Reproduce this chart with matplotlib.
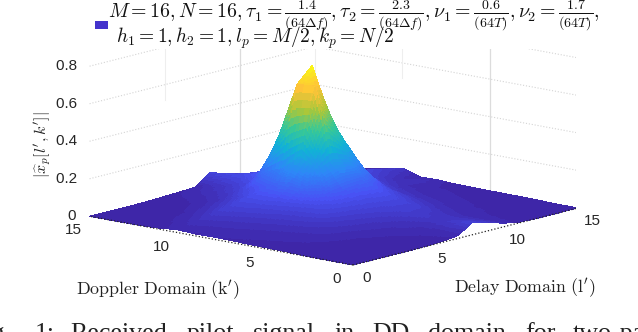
import numpy as np
import matplotlib
matplotlib.use('Agg')
import matplotlib.pyplot as plt
from matplotlib.colors import LinearSegmentedColormap
from matplotlib.patches import Rectangle
from mpl_toolkits.mplot3d import proj3d

# Values: |x_p[l',k']|, rows are k' = 0..15, columns l' = 0..15
delay = np.arange(16)
doppler = np.arange(16)
pilot = np.array([
    [.000, .000, .000, .000, .000, .002, .005, .015, .067, .045, .020, .005, .000, .000, .000, .000],
    [.000, .000, .000, .002, .004, .006, .010, .020, .050, .040, .020, .010, .004, .002, .000, .000],
    [.000, .002, .003, .005, .007, .010, .015, .022, .040, .035, .020, .012, .008, .005, .003, .002],
    [.002, .004, .005, .008, .012, .016, .022, .030, .050, .040, .025, .016, .010, .007, .005, .004],
    [.005, .008, .012, .020, .022, .028, .034, .044, .060, .060, .035, .020, .013, .009, .006, .004],
    [.006, .010, .015, .024, .035, .045, .052, .062, .070, .075, .050, .028, .016, .011, .008, .005],
    [.008, .012, .018, .028, .045, .070, .080, .085, .090, .100, .070, .036, .020, .013, .009, .006],
    [.010, .015, .022, .034, .052, .075, .105, .125, .130, .140, .100, .048, .026, .016, .010, .007],
    [.012, .018, .026, .040, .060, .085, .140, .220, .260, .240, .180, .075, .038, .022, .027, .012],
    [.010, .020, .032, .050, .070, .095, .150, .280, .630, .444, .300, .120, .060, .035, .020, .010],
    [.015, .025, .040, .060, .075, .095, .125, .200, .630, .710, .390, .190, .090, .070, .050, .040],
    [.006, .012, .020, .030, .045, .060, .090, .160, .350, .300, .160, .090, .050, .040, .030, .020],
    [.002, .005, .008, .012, .020, .030, .050, .080, .120, .120, .060, .040, .025, .015, .010, .002],
    [.000, .002, .003, .005, .008, .015, .030, .050, .090, .090, .040, .020, .010, .005, .002, .000],
    [.000, .000, .002, .003, .005, .010, .020, .030, .080, .060, .030, .012, .005, .002, .000, .000],
    [.000, .000, .000, .000, .002, .005, .008, .012, .070, .047, .027, .005, .002, .000, .000, .000],
])

z_ticks = [0, 0.2, 0.4, 0.6, 0.8]
z_labels = ['0', '0.2', '0.4', '0.6', '0.8']
grid_ticks = [0, 5, 10, 15]
legend_line1 = (r'$M=16,N=16,\tau_1=\frac{1.4}{(64\Delta f)},\tau_2=\frac{2.3}{(64\Delta f)},'
                r'\nu_1=\frac{0.6}{(64T)},\nu_2=\frac{1.7}{(64T)},$')
legend_line2 = r'$h_1=1,h_2=1,l_p=M/2,k_p=N/2$'
caption_words = ['Fig.', '1:', 'Received', 'pilot', 'signal', 'in', 'DD', 'domain', 'for', 'two-path']
caption_x = [-30, 35, 70, 187, 253, 335, 372, 428, 525, 573]

parula = LinearSegmentedColormap.from_list('parula', [
    (0.2422, 0.1504, 0.6603), (0.2810, 0.3228, 0.9579), (0.1786, 0.5289, 0.9682),
    (0.0689, 0.6948, 0.8394), (0.2161, 0.7843, 0.5923), (0.6720, 0.7793, 0.2227),
    (0.9970, 0.7659, 0.2199), (0.9769, 0.9839, 0.0805)], N=64)


# smooth shading like MATLAB's "shading interp": split each cell into small flat facets
def shade_mesh(z, n=10):
    u = np.linspace(0, 15, 15 * n + 1)
    i = np.minimum(u.astype(int), 14)
    f = u - i
    fx, fy = np.meshgrid(f, f)
    ix, iy = np.meshgrid(i, i)
    zz = (z[iy, ix] * (1 - fx) * (1 - fy) + z[iy, ix + 1] * fx * (1 - fy)
          + z[iy + 1, ix] * (1 - fx) * fy + z[iy + 1, ix + 1] * fx * fy)
    xx, yy = np.meshgrid(u, u)
    return xx, yy, zz


W, H = 638, 332
fig = plt.figure(figsize=(W / 100, H / 100), dpi=100)
ax = fig.add_axes([0, 0, 1, 1], projection='3d', computed_zorder=False)
ax.set_proj_type('ortho')
ax.view_init(elev=12.5, azim=-139.5)
ax.set_xlim(0, 15, view_margin=0)
ax.set_ylim(0, 15, view_margin=0)
ax.set_zlim(0, 0.8, view_margin=0)
ax.set_box_aspect((347, 347, 154))
ax.set_axis_off()
ax.patch.set_alpha(0)

# place the square 3D axes so that the floor corners land where they are in the picture
P = ax.get_proj()
x0, y0, _ = proj3d.proj_transform(0, 0, 0, P)
x1, y1, _ = proj3d.proj_transform(15, 0, 0, P)
xl = ax.viewLim.intervalx
yl = ax.viewLim.intervaly
S = 225 / (x1 - x0) * (xl[1] - xl[0])
left = 353 - (x0 - xl[0]) / (xl[1] - xl[0]) * S
bottom = (H - 265) - (y0 - yl[0]) / (yl[1] - yl[0]) * S
ax.set_position([left / W, bottom / H, S / W, S / H])

# walls
for z in z_ticks[1:]:
    ax.plot([0, 15], [15, 15], [z, z], ls=':', lw=0.8, color='#d4d4d4', zorder=1)
    ax.plot([15, 15], [15, 0], [z, z], ls=':', lw=0.8, color='#d4d4d4', zorder=1)
ax.plot([10, 10], [15, 15], [0, 0.8], lw=0.9, color='#dcdcdc', zorder=1)
ax.plot([15, 15], [5, 5], [0, 0.8], lw=0.9, color='#dcdcdc', zorder=1)
ax.plot([15, 15], [15, 15], [0, 0.8], lw=0.8, color='#eeeeee', zorder=1)
ax.plot([5, 5], [15, 15], [0.52, 0.8], lw=0.8, color='#eeeeee', zorder=1)
ax.plot([15, 15], [10, 10], [0.52, 0.8], lw=0.8, color='#eeeeee', zorder=1)

xx, yy, zz = shade_mesh(pilot)
ax.plot_surface(xx, yy, zz, rstride=1, cstride=1, cmap=parula, vmin=0, vmax=pilot.max(),
                linewidth=0, antialiased=False, shade=False, zorder=2)

# front edges of the floor
ax.plot([0, 15], [0, 0], [0, 0], ls=':', lw=0.9, color='#222222', zorder=3)
ax.plot([0, 0], [0, 15], [0, 0], ls=':', lw=0.9, color='#222222', zorder=3)

tick_font = dict(family='Liberation Sans', fontsize=11, color='#262626', ha='center', va='center', zorder=4)
for t in grid_ticks:
    ax.text(t, -0.8, -0.055, str(t), **tick_font)
    ax.text(-1.07, t, -0.053, str(t), **tick_font)
for z, s in zip(z_ticks, z_labels):
    ax.text(0, 15, z, s + '   ', family='Liberation Sans', fontsize=11, color='#262626',
            ha='right', va='center', zorder=4)

plt.rcParams['mathtext.fontset'] = 'cm'
fig.text(158 / W, 1 - 290 / H, r"$\mathrm{Doppler\ Domain\ (k')}$", fontsize=12.9, ha='center', va='center', color='#222222')
fig.text(525 / W, 1 - 288 / H, r"$\mathrm{Delay\ Domain\ (l')}$", fontsize=12.9, ha='center', va='center', color='#222222')
fig.text(42 / W, 1 - 145 / H, r"$|\widehat{x}_p[l',k']|$", fontsize=11.5, rotation=90, ha='center', va='center', color='#222222')

# legend box hides the top of the walls
fig.add_artist(Rectangle((77 / W, 1 - 49 / H), 530 / W, 49 / H, transform=fig.transFigure,
                         facecolor='white', edgecolor='none', zorder=5))
fig.add_artist(Rectangle((95 / W, 1 - 29 / H), 13 / W, 8 / H, transform=fig.transFigure,
                         facecolor='#4433cc', edgecolor='none', zorder=6))
fig.text(108 / W, 1 - 17 / H, legend_line1, fontsize=14.3, color='#111111', va='baseline', zorder=6)
fig.text(116 / W, 1 - 43 / H, legend_line2, fontsize=14, color='#111111', va='baseline', zorder=6)

for word, x in zip(caption_words, caption_x):
    fig.text(x / W, 1 - 340 / H, word, family='Liberation Serif', fontsize=18.7, color='#222222', va='baseline')

fig.savefig('out.png', dpi=100)
